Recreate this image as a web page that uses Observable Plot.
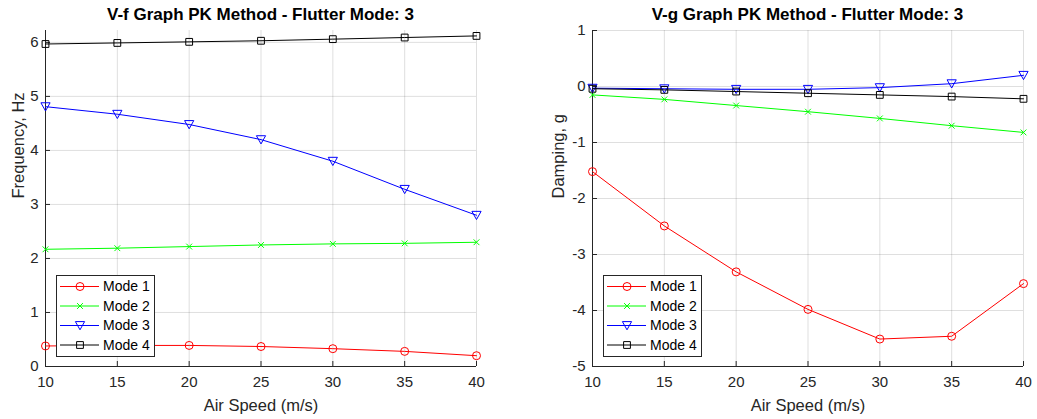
<!DOCTYPE html>
<html><head><meta charset="utf-8">
<script src="https://cdn.jsdelivr.net/npm/d3@7"></script>
<script src="https://cdn.jsdelivr.net/npm/@observablehq/plot@0.6"></script>
<style>
body{margin:0;background:#fff;font-family:"Liberation Sans",Arial,Helvetica,sans-serif;}
#wrap{position:relative;width:1037px;height:419px;overflow:hidden;}
.panel{position:absolute;top:0;}
.title{position:absolute;top:5px;font-weight:bold;font-size:17px;color:#000;text-align:center;white-space:nowrap;line-height:20px;}
.legend{position:absolute;}
</style></head><body><div id="wrap"></div>
<script>
// ---- data ----
const speeds = [10, 15, 20, 25, 30, 35, 40];
const modeNames = ["Mode 1", "Mode 2", "Mode 3", "Mode 4"];
const modeColors = ["#ff0000", "#00ff00", "#0000ff", "#000000"];
const freqMode1 = [0.38, 0.39, 0.39, 0.37, 0.33, 0.28, 0.20];
const freqMode2 = [2.17, 2.19, 2.22, 2.25, 2.27, 2.28, 2.30];
const freqMode3 = [4.81, 4.67, 4.48, 4.20, 3.80, 3.28, 2.80];
const freqMode4 = [5.97, 5.99, 6.01, 6.03, 6.06, 6.09, 6.12];
const dampMode1 = [-1.52, -2.49, -3.31, -3.98, -4.51, -4.46, -3.52];
const dampMode2 = [-0.15, -0.23, -0.34, -0.45, -0.57, -0.70, -0.82];
const dampMode3 = [-0.03, -0.04, -0.05, -0.05, -0.02, 0.05, 0.20];
const dampMode4 = [-0.04, -0.06, -0.09, -0.12, -0.15, -0.18, -0.22];
const xTicks = [10, 15, 20, 25, 30, 35, 40];
const freqTicks = [0, 1, 2, 3, 4, 5, 6];
const dampTicks = [-5, -4, -3, -2, -1, 0, 1];
const freqTitle = "V-f Graph PK Method - Flutter Mode: 3";
const dampTitle = "V-g Graph PK Method - Flutter Mode: 3";
const xLabel = "Air Speed (m/s)";
const freqLabel = "Frequency, Hz";
const dampLabel = "Damping, g";

// ---- marker symbols (MATLAB-like) ----
const symCircle = {draw(c){ c.moveTo(4,0); c.arc(0,0,4,0,2*Math.PI); }};
const symTimes = {draw(c){ const h=2.9; c.moveTo(-h,-h); c.lineTo(h,h); c.moveTo(h,-h); c.lineTo(-h,h); }};
const symTriDown = {draw(c){ c.moveTo(-4.6,-3.9); c.lineTo(4.6,-3.9); c.lineTo(0,4.3); c.closePath(); }};
const symSquare = {draw(c){ const h=3.4; c.moveTo(-h,-h); c.lineTo(h,-h); c.lineTo(h,h); c.lineTo(-h,h); c.closePath(); }};
const modeSymbols = [symCircle, symTimes, symTriDown, symSquare];

function rows(series){
  const out = [];
  series.forEach((vals, m) => vals.forEach((v, i) => out.push({mode: m, x: speeds[i], y: v})));
  return out;
}

const wrap = document.getElementById("wrap");
const H = 419, MT = 30, MB = 53;
const fmt = d => String(d);

function panel({left, width, mL, mR, yDomain, yTicks, yLabel, yLabelDx, series, title}){
  const data = rows(series);
  const div = document.createElement("div");
  div.className = "panel";
  div.style.left = left + "px";
  div.style.width = width + "px";
  div.style.height = H + "px";
  const marks = [
    Plot.gridX(xTicks, {stroke: "#262626", strokeOpacity: 0.15, strokeWidth: 1}),
    Plot.gridY(yTicks, {stroke: "#262626", strokeOpacity: 0.15, strokeWidth: 1}),
    Plot.ruleX([10], {stroke: "#262626", strokeWidth: 1}),
    Plot.ruleY([yDomain[0]], {stroke: "#262626", strokeWidth: 1}),
    Plot.axisX(xTicks, {tickSize: -5, tickPadding: 15, tickFormat: fmt, label: null, fontSize: 15, color: "#262626", stroke: "#262626"}),
    Plot.axisY(yTicks, {tickSize: -5, tickPadding: 12, tickFormat: fmt, label: null, fontSize: 15, color: "#262626", stroke: "#262626"}),
    Plot.text([xLabel], {frameAnchor: "bottom", dy: 44, fontSize: 16.5, fill: "#262626"}),
    Plot.text([yLabel], {frameAnchor: "left", dx: yLabelDx, rotate: -90, fontSize: 16.5, fill: "#262626"})
  ];
  series.forEach((s, m) => {
    const d = data.filter(r => r.mode === m);
    marks.push(Plot.line(d, {x: "x", y: "y", stroke: modeColors[m], strokeWidth: 1}));
    marks.push(Plot.dot(d, {x: "x", y: "y", stroke: modeColors[m], fill: "none", strokeWidth: 1, symbol: modeSymbols[m], r: 5}));
  });
  const svg = Plot.plot({
    width, height: H, marginLeft: mL, marginRight: mR, marginTop: MT, marginBottom: MB,
    style: {fontFamily: '"Liberation Sans", Arial, Helvetica, sans-serif', background: "transparent", color: "#262626", overflow: "visible"},
    x: {domain: [10, 40]},
    y: {domain: yDomain},
    marks
  });
  div.appendChild(svg);
  // title
  const t = document.createElement("div");
  t.className = "title";
  t.textContent = title;
  const cx = mL + (width - mL - mR) / 2;
  t.style.left = (cx - 250) + "px";
  t.style.width = "500px";
  div.appendChild(t);
  // legend
  const lg = d3.create("svg").attr("class", "legend").attr("width", 100).attr("height", 83)
    .style("left", (mL + 11) + "px").style("top", (H - MB - 10 - 81) + "px");
  lg.append("rect").attr("x", 0.5).attr("y", 0.5).attr("width", 98).attr("height", 81)
    .attr("fill", "#fff").attr("stroke", "#262626").attr("stroke-width", 1);
  modeNames.forEach((name, m) => {
    const y = 11.5 + m * 19.5;
    const g = lg.append("g");
    g.append("line").attr("x1", 4).attr("x2", 43).attr("y1", y).attr("y2", y).attr("stroke", modeColors[m]).attr("stroke-width", 1);
    g.append("path").attr("transform", `translate(24,${y})`).attr("d", d3.symbol(modeSymbols[m])()).attr("fill", "none").attr("stroke", modeColors[m]).attr("stroke-width", 1);
    g.append("text").attr("x", 47).attr("y", y).attr("dy", "0.35em").attr("font-size", 14).attr("fill", "#000")
      .attr("font-family", '"Liberation Sans", Arial, sans-serif').text(name);
  });
  div.appendChild(lg.node());
  wrap.appendChild(div);
}

panel({left: 0, width: 518, mL: 45, mR: 42, yDomain: [0, 6.22], yTicks: freqTicks, yLabel: freqLabel, yLabelDx: -27,
  series: [freqMode1, freqMode2, freqMode3, freqMode4], title: freqTitle});
panel({left: 518, width: 519, mL: 74, mR: 14, yDomain: [-5, 1], yTicks: dampTicks, yLabel: dampLabel, yLabelDx: -34,
  series: [dampMode1, dampMode2, dampMode3, dampMode4], title: dampTitle});
</script></body></html>
